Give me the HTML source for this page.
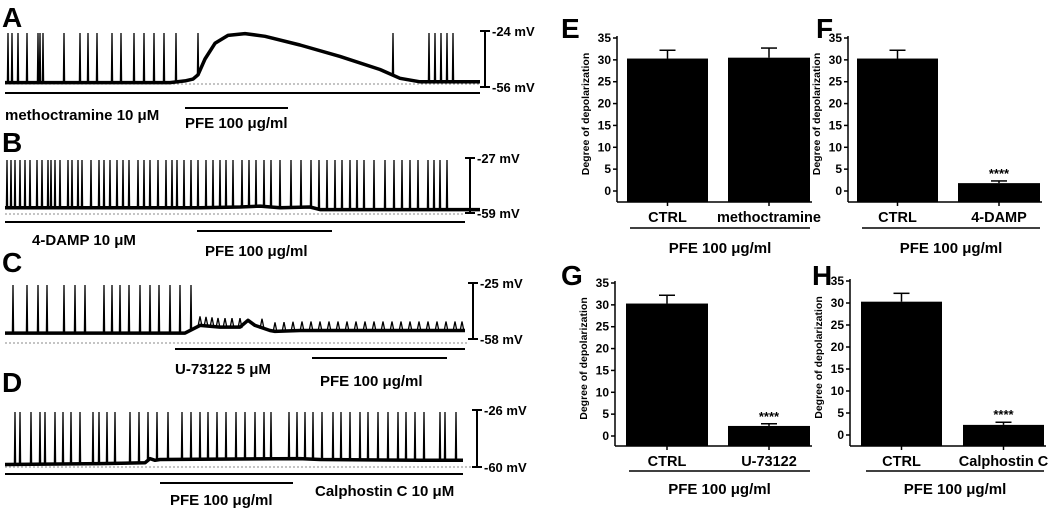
<!DOCTYPE html>
<html><head><meta charset="utf-8"><style>
html,body{margin:0;padding:0;background:#fff;}
svg{display:block;font-family:"Liberation Sans",Arial,sans-serif;}
</style></head><body>
<svg id="fig" width="1059" height="511" viewBox="0 0 1059 511"></svg>
<script>
// ----- bar chart data -----
const barCats = [["CTRL","methoctramine"],["CTRL","4-DAMP"],["CTRL","U-73122"],["CTRL","Calphostin C"]];
const barVals = [[30.3,30.5],[30.3,1.8],[30.3,2.3],[30.3,2.3]];
const barErrs = [[1.9,2.2],[1.9,0.5],[1.9,0.5],[1.9,0.6]];
const barSig = [["",""],["","****"],["","****"],["","****"]];
const yTicks = [0,5,10,15,20,25,30,35];
const panelLetters = ["E","F","G","H"];

// ----- trace data (x in px-time, v in mV) -----
const spikesA = [8,12,18,27,38,40,43,64,80,88,97,112,121,134,144,154,164,176,198,393,429,435,441,447,453];
const baseA_t = [5,60,120,170,185,193,198,205,215,228,245,265,300,340,380,400,420,480];
const baseA_v = [-53.5,-53.5,-53.5,-53.5,-52.5,-51.5,-49,-40,-31,-26.5,-25.5,-27,-32,-38.5,-46,-51,-53,-53];
const spikesB = [7,11,15,20,25,30,37,42,48,51,55,60,68,72,78,82,91,99,104,110,117,123,129,138,144,150,158,166,172,177,184,191,198,206,213,220,226,233,242,249,256,264,271,280,291,301,311,319,327,335,342,350,357,364,374,385,394,402,410,418,428,434,440,447];
const baseB_t = [5,100,200,240,260,280,310,320,480];
const baseB_v = [-56,-56,-56,-55.5,-55,-56,-55.5,-57,-57];
const spikesC = [13,27,38,47,64,75,85,104,112,120,129,140,150,159,170,180,191];
const smallC = [200,206,212,218,225,232,240,262,275,284,293,302,311,320,329,338,347,356,365,374,383,392,401,410,419,428,437,446,455,462];
const baseC_t = [5,180,185,200,220,240,248,255,270,275,300,400,465];
const baseC_v = [-54.5,-54.5,-54.5,-50,-51,-51,-47,-50,-53,-53.5,-53,-53,-53];
const spikesD = [15,20,31,40,45,55,63,71,80,93,99,107,115,130,139,148,157,168,182,191,200,208,217,226,236,245,255,264,271,289,297,305,313,322,333,341,350,360,368,378,388,398,406,415,424,440,445,456];
const baseD_t = [5,100,145,150,155,160,300,320,420,463];
const baseD_v = [-58.5,-58,-57.5,-55,-56,-55.5,-55,-55.5,-56,-56];

const svg = document.getElementById('fig');
const NS = "http://www.w3.org/2000/svg";
function mk(tag, attrs, parent){
  const e = document.createElementNS(NS, tag);
  for (const k in attrs) e.setAttribute(k, attrs[k]);
  (parent||svg).appendChild(e);
  return e;
}
function txt(x,y,s,size,anchor,name,parent){
  const t = mk('text',{x:x,y:y,'font-size':size,'font-weight':'bold','text-anchor':anchor||'start',fill:'#000'},parent);
  t.textContent = s;
  
  
  return t;
}

// ----- bar panels -----
const panels = [
  {ax:617, top:38, zero:191, bottom:202, b1:[627,708], b2:[728,810], lineY:228, lineX:[630,810], catY:222, pfeY:253, letter:[561,38]},
  {ax:848, top:38, zero:191, bottom:202, b1:[857,938], b2:[958,1040], lineY:228, lineX:[862,1040], catY:222, pfeY:253, letter:[816,38]},
  {ax:615, top:283, zero:436, bottom:446, b1:[626,708], b2:[728,810], lineY:471, lineX:[629,810], catY:466, pfeY:494, letter:[561,285]},
  {ax:850, top:281, zero:435, bottom:446, b1:[861,942], b2:[963,1044], lineY:471, lineX:[866,1044], catY:466, pfeY:494, letter:[812,285]}
];
panels.forEach((p,i)=>{
  const g = mk('g',{});
  
  
  const y = v => p.zero - (v/35)*(p.zero-p.top);
  txt(p.letter[0], p.letter[1], panelLetters[i], 28, 'start', 'panel-label-'+panelLetters[i].toLowerCase(), g);
  const axis = mk('line',{x1:p.ax,y1:p.top-2,x2:p.ax,y2:p.bottom,stroke:'#000','stroke-width':1.5},g);
  
  
  const xaxis = mk('line',{x1:p.ax,y1:p.bottom,x2:p.b2[1]+2,y2:p.bottom,stroke:'#000','stroke-width':1.5},g);
  
  
  yTicks.forEach(t=>{
    mk('line',{x1:p.ax-4,y1:y(t),x2:p.ax,y2:y(t),stroke:'#000','stroke-width':1.5},g);
    txt(p.ax-6, y(t)+4, String(t), 12, 'end', 'y-tick-label', g);
  });
  const tt = txt(0,0,'Degree of depolarization',10.5,'middle','y-axis-title',g);
  tt.setAttribute('transform','translate('+(p.ax-28)+','+((p.top+p.bottom)/2-6)+') rotate(-90)');
  [p.b1,p.b2].forEach((b,j)=>{
    const v = barVals[i][j], e = barErrs[i][j];
    const cx = (b[0]+b[1])/2;
    const r = mk('rect',{x:b[0],y:y(v),width:b[1]-b[0],height:p.bottom-y(v),fill:'#000'},g);
    
    
    mk('line',{x1:cx,y1:y(v),x2:cx,y2:y(v+e),stroke:'#000','stroke-width':1.5},g);
    mk('line',{x1:cx-8,y1:y(v+e),x2:cx+8,y2:y(v+e),stroke:'#000','stroke-width':1.5},g);
    mk('line',{x1:cx,y1:p.bottom,x2:cx,y2:p.bottom+4,stroke:'#000','stroke-width':1.5},g);
    if (barSig[i][j]) txt(cx, y(v+e)-3, barSig[i][j], 13, 'middle', 'significance-marker', g);
    txt(cx, p.catY, barCats[i][j], 14.5, 'middle', 'category-label', g);
  });
  mk('line',{x1:p.lineX[0],y1:p.lineY,x2:p.lineX[1],y2:p.lineY,stroke:'#000','stroke-width':1.5},g);
  txt((p.lineX[0]+p.lineX[1])/2, p.pfeY, 'PFE 100 μg/ml', 15, 'middle', 'treatment-label', g);
});

// ----- traces -----
const traces = [
  {L:'A', ly:27, spikes:spikesA, small:[], bt:baseA_t, bv:baseA_v, vTop:-24, vBot:-56, yTop:31, yBot:87, sx:485, dash:84, tops:'-24 mV', bots:'-56 mV',
   lines:[[5,480,93],[185,288,108]], labels:[['methoctramine 10 μM',5,120],['PFE 100 μg/ml',185,128]]},
  {L:'B', ly:152, spikes:spikesB, small:[], bt:baseB_t, bv:baseB_v, vTop:-27, vBot:-59, yTop:158, yBot:213, sx:470, dash:214, tops:'-27 mV', bots:'-59 mV',
   lines:[[5,465,222],[197,332,231]], labels:[['4-DAMP 10 μM',32,245],['PFE 100 μg/ml',205,256]]},
  {L:'C', ly:272, spikes:spikesC, small:smallC, bt:baseC_t, bv:baseC_v, vTop:-25, vBot:-58, yTop:283, yBot:339, sx:473, dash:343, tops:'-25 mV', bots:'-58 mV',
   lines:[[175,465,349],[312,447,358]], labels:[['U-73122 5 μM',175,374],['PFE 100 μg/ml',320,386]]},
  {L:'D', ly:392, spikes:spikesD, small:[], bt:baseD_t, bv:baseD_v, vTop:-26, vBot:-60, yTop:410, yBot:467, sx:477, dash:467, tops:'-26 mV', bots:'-60 mV',
   lines:[[5,463,474],[160,293,483]], labels:[['Calphostin C 10 μM',315,496],['PFE 100 μg/ml',170,505]]}
];
function interp(ts, vs, t){
  if (t<=ts[0]) return vs[0];
  for (let k=1;k<ts.length;k++) if (t<=ts[k]){ const f=(t-ts[k-1])/(ts[k]-ts[k-1]); return vs[k-1]+f*(vs[k]-vs[k-1]); }
  return vs[vs.length-1];
}
traces.forEach(tr=>{
  const g = mk('g',{});
  
  
  const yv = v => tr.yBot - (v - tr.vBot)/(tr.vTop-tr.vBot)*(tr.yBot-tr.yTop);
  txt(2, tr.ly, tr.L, 28, 'start', 'panel-label-'+tr.L.toLowerCase(), g);
  mk('line',{x1:5,y1:tr.dash,x2:tr.sx-5,y2:tr.dash,stroke:'#888','stroke-width':1,'stroke-dasharray':'2,2'},g);
  let d = '';
  tr.bt.forEach((t,k)=>{ d += (k?'L':'M')+t+','+yv(tr.bv[k]).toFixed(1); });
  const bp = mk('path',{d:d,fill:'none',stroke:'#000','stroke-width':3.5,'stroke-linejoin':'round'},g);
  
  
  let sd = '';
  tr.spikes.forEach(t=>{
    const b = yv(interp(tr.bt,tr.bv,t));
    sd += 'M'+(t-0.6)+','+b.toFixed(1)+'L'+t+','+(yv(tr.vTop)+2)+'L'+(t+0.6)+','+(b+1).toFixed(1);
  });
  tr.small.forEach(t=>{
    const b = yv(interp(tr.bt,tr.bv,t));
    sd += 'M'+(t-2)+','+(b+1).toFixed(1)+'L'+t+','+(b-9).toFixed(1)+'L'+(t+2)+','+(b+1).toFixed(1);
  });
  const sp = mk('path',{d:sd,fill:'none',stroke:'#000','stroke-width':1.3},g);
  
  
  const sb = mk('path',{d:'M'+tr.sx+','+tr.yTop+'V'+tr.yBot+'M'+(tr.sx-5)+','+tr.yTop+'H'+(tr.sx+5)+'M'+(tr.sx-5)+','+tr.yBot+'H'+(tr.sx+5),stroke:'#000','stroke-width':2,fill:'none'},g);
  
  
  txt(tr.sx+7, tr.yTop+5, tr.tops, 13, 'start', 'scale-top-label', g);
  txt(tr.sx+7, tr.yBot+5, tr.bots, 13, 'start', 'scale-bottom-label', g);
  tr.lines.forEach(l=>{
    const ln = mk('line',{x1:l[0],y1:l[2],x2:l[1],y2:l[2],stroke:'#000','stroke-width':2},g);
    
    
  });
  tr.labels.forEach(l=>txt(l[1], l[2], l[0], 15, 'start', 'drug-label', g));
});
</script>
</body></html>
